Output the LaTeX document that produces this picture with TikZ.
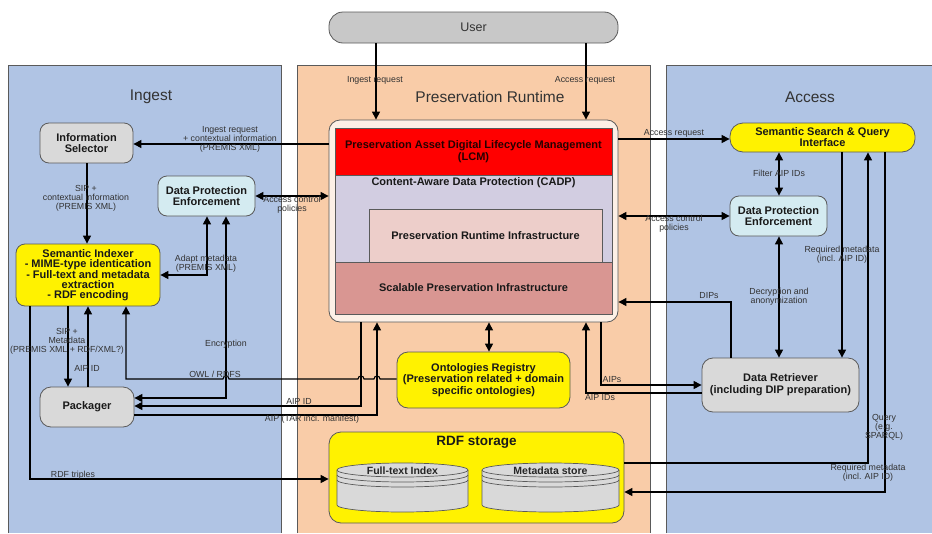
\documentclass[tikz,border=0pt]{standalone}
\usepackage{fontspec}
\setmainfont{Liberation Sans}
\usetikzlibrary{arrows.meta,calc}
\definecolor{panelblue}{RGB}{176,196,228}
\definecolor{panelpeach}{RGB}{249,204,168}
\definecolor{nodegray}{RGB}{217,217,217}
\definecolor{usergray}{RGB}{200,200,200}
\definecolor{dpecol}{RGB}{212,235,241}
\definecolor{lcmoutcol}{RGB}{253,240,230}
\definecolor{cadpcol}{RGB}{210,205,225}
\definecolor{pricol}{RGB}{237,206,202}
\definecolor{spicol}{RGB}{217,150,146}
\definecolor{bordergray}{RGB}{90,90,90}
\definecolor{labelgray}{RGB}{50,50,50}
\newcommand{\diskstack}[2]{%
  \fill[nodegray] (#1-#2,470) -- (#1-#2,505) arc[start angle=180,end angle=360,x radius=#2pt,y radius=7pt] -- (#1+#2,470) arc[start angle=0,end angle=180,x radius=#2pt,y radius=7pt] -- cycle;
  \draw[bordergray,line width=0.7pt] (#1-#2,470) -- (#1-#2,505) arc[start angle=180,end angle=360,x radius=#2pt,y radius=7pt] -- (#1+#2,470);
  \draw[bordergray,line width=0.7pt] (#1,470) ellipse [x radius=#2pt,y radius=7pt];
  \draw[bordergray,line width=0.7pt] (#1-#2,475) arc[start angle=180,end angle=360,x radius=#2pt,y radius=7pt];
  \draw[bordergray,line width=0.7pt] (#1-#2,480) arc[start angle=180,end angle=360,x radius=#2pt,y radius=7pt];
}
\begin{document}
\begin{tikzpicture}[x=1pt,y=-1pt,
  box/.style={draw=bordergray, line width=0.8pt, rounded corners=9pt, align=center,
    font=\fontsize{11}{11}\selectfont\bfseries, text=black!90, inner sep=0pt},
  flat/.style={draw=bordergray, line width=0.7pt, inner sep=0pt, align=center,
    font=\fontsize{11}{12}\selectfont\bfseries, text=black!90},
  lbl/.style={font=\fontsize{8.8}{9}\selectfont, text=labelgray, align=center, inner sep=0pt},
  paneltitle/.style={font=\fontsize{15.5}{17}\selectfont, text=black!80, inner sep=0pt},
  conn/.style={line width=1.1pt, black},
  arr/.style={conn, -{Triangle[length=8pt,width=8pt]}},
  darr/.style={conn, {Triangle[length=8pt,width=8pt]}-{Triangle[length=8pt,width=8pt]}},
  panelline/.style={draw=bordergray, line width=0.8pt},
]
\path[use as bounding box] (0,0) rectangle (932,533);

% panels
\fill[panelblue] (8,65) rectangle (281,533);
\draw[panelline] (8,533) -- (8,65) -- (281,65) -- (281,533);
\fill[panelpeach] (297,65) rectangle (650,533);
\draw[panelline] (297,533) -- (297,65) -- (650,65) -- (650,533);
\fill[panelblue] (666,65) rectangle (932,533);
\draw[panelline] (666,533) -- (666,65) -- (932,65);

\node[paneltitle] (tingest) at (151,97) {Ingest};
\node[paneltitle] (truntime) at (490,97) {Preservation Runtime};
\node[paneltitle] (taccess) at (810,97) {Access};

% x / y helper coordinates
\foreach \xx in {30,68,87,88,126,207,226,361,376,377,489,586,601,731,779,842,868,885}
  \coordinate (x\xx) at (\xx,0);
\foreach \yy in {139,144,196,216,275,302,379,385,393,398,406,415,463,479,492}
  \coordinate (y\yy) at (0,\yy);

% user
\node[box, fill=usergray, rounded corners=14pt, minimum width=289pt, minimum height=31pt,
  font=\fontsize{12.5}{14}\selectfont, text=black!80] (user) at (473.5,27.5) {User};

% LCM stack
\node[box, fill=lcmoutcol, rounded corners=11pt, minimum width=289pt, minimum height=202pt] (lcmo) at (473.5,221) {};
\node[flat, fill=cadpcol, minimum width=277pt, minimum height=87pt] (cadp) at (473.5,218.5) {};
\node[flat, fill=pricol, minimum width=233pt, minimum height=53pt] (pri) at (485.5,235.5) {Preservation Runtime Infrastructure};
\node[flat, fill=red, minimum width=277pt, minimum height=47pt, text=black!85!red] (lcm) at (473.5,151.5) {Preservation Asset Digital Lifecycle Management\\(LCM)};
\node[flat, fill=spicol, minimum width=277pt, minimum height=52pt] (spi) at (473.5,288) {Scalable Preservation Infrastructure};
\node[font=\fontsize{11}{12}\selectfont\bfseries, text=black!90, inner sep=0pt] (cadptxt) at (473.5,183) {Content-Aware Data Protection (CADP)};

% ingest nodes
\node[box, fill=nodegray, minimum width=93pt, minimum height=40pt] (infosel) at (86.5,143) {Information\\Selector};
\node[box, fill=dpecol, minimum width=97pt, minimum height=40pt] (dpei) at (206.5,196) {Data Protection\\Enforcement};
\node[box, fill=yellow, minimum width=144pt, minimum height=62pt, font=\fontsize{11}{10}\selectfont\bfseries] (semidx) at (88,275) {Semantic Indexer\\- MIME-type identication\\- Full-text and metadata\\extraction\\- RDF encoding};
\node[box, fill=nodegray, minimum width=94pt, minimum height=40pt, rounded corners=11pt] (packager) at (87,407) {Packager};

% runtime lower nodes
\node[box, fill=yellow, minimum width=173pt, minimum height=56pt, rounded corners=11pt, font=\fontsize{11}{10}\selectfont\bfseries] (onto) at (483.5,380) {Ontologies Registry\\(Preservation related + domain\\specific ontologies)};
\node[box, fill=yellow, minimum width=295pt, minimum height=91pt, rounded corners=12pt] (rdf) at (476.5,477.5) {};
\node[font=\fontsize{13.5}{15}\selectfont\bfseries, text=black!90, inner sep=0pt] (rdftitle) at (476.5,442) {RDF storage};
\diskstack{402.5}{65.5}
\diskstack{550.5}{68.5}
\node[font=\fontsize{10.5}{12}\selectfont\bfseries, text=black!85, inner sep=0pt] (ftidx) at (402.5,471) {Full-text Index};
\node[font=\fontsize{10.5}{12}\selectfont\bfseries, text=black!85, inner sep=0pt] (mdstore) at (550.5,471) {Metadata store};

% access nodes
\node[box, fill=yellow, minimum width=185pt, minimum height=29pt, rounded corners=13pt] (ssq) at (822.5,137.5) {Semantic Search \& Query\\Interface};
\node[box, fill=dpecol, minimum width=97pt, minimum height=40pt] (dpea) at (778.5,216) {Data Protection\\Enforcement};
\node[box, fill=nodegray, minimum width=157pt, minimum height=54pt, rounded corners=11pt, font=\fontsize{11}{12}\selectfont\bfseries] (dr) at (780.5,385) {Data Retriever\\(including DIP preparation)};

% connectors
\draw[arr] (user.south -| x376) -- (lcmo.north -| x376);
\draw[arr] (user.south -| x586) -- (lcmo.north -| x586);
\draw[arr] (lcmo.west |- y144) -- (infosel.east |- y144);
\draw[arr] (infosel.south -| x87) -- (semidx.north -| x87);
\draw[darr] (dpei.east |- y196) -- (lcmo.west |- y196);
\draw[darr] (dpei.south -| x207) |- (semidx.east |- y275);
\draw[darr] (dpei.south -| x226) |- (packager.east |- y398);
\coordinate (h1) at (377,379);
\coordinate (h2) at (361,379);
\coordinate (h3) at (226,379);
\draw[arr] (onto.west |- y379) -- ([xshift=3pt]h1) arc[start angle=0,end angle=180,radius=3pt]
  -- ([xshift=3pt]h2) arc[start angle=0,end angle=180,radius=3pt]
  -- ([xshift=3pt]h3) arc[start angle=0,end angle=180,radius=3pt]
  -| (semidx.south -| x126);
\draw[arr] (lcmo.south -| x361) |- (packager.east |- y406);
\draw[arr] (packager.east |- y415) -| (lcmo.south -| x377);
\draw[arr] (packager.north -| x88) -- (semidx.south -| x88);
\draw[arr] (semidx.south -| x68) -- (packager.north -| x68);
\draw[arr] (semidx.south -| x30) |- (rdf.west |- y479);

\draw[arr] (lcmo.east |- y139) -- (ssq.west |- y139);
\draw[darr] (lcmo.east |- y216) -- (dpea.west |- y216);
\draw[darr] (ssq.south -| x779) -- (dpea.north -| x779);
\draw[darr] (dpea.south -| x779) -- (dr.north -| x779);
\draw[arr] (ssq.south -| x842) -- (dr.north -| x842);
\draw[arr] (rdf.east |- y463) -| (ssq.south -| x868);
\draw[arr] (ssq.south -| x885) |- (rdf.east |- y492);
\draw[arr] (dr.north -| x731) |- (lcmo.east |- y302);
\draw[arr] (lcmo.south -| x601) |- (dr.west |- y385);
\draw[arr] (dr.west |- y393) -| (lcmo.south -| x586);
\draw[darr] (lcmo.south -| x489) -- (onto.north -| x489);

% labels
\node[lbl] (l1) at (375,80) {Ingest request};
\node[lbl] (l2) at (585,80) {Access request};
\node[lbl] (l3) at (230,139) {Ingest request\\+ contextual information\\(PREMIS XML)};
\node[lbl] (l4) at (86,198) {SIP +\\contextual information\\(PREMIS XML)};
\node[lbl] (l5) at (292,205) {Access control\\policies};
\node[lbl] (l6) at (206,263.5) {Adapt metadata\\(PREMIS XML)};
\node[lbl] (l7) at (226,344) {Encryption};
\node[lbl] (l8) at (215,374) {OWL / RDFS};
\node[lbl] (l9) at (299,401) {AIP ID};
\node[lbl] (l10) at (312,419) {AIP (TAR incl. manifest)};
\node[lbl] (l11) at (87,368) {AIP ID};
\node[lbl] (l12) at (67,341) {SIP +\\Metadata\\(PREMIS XML + RDF/XML?)};
\node[lbl] (l13) at (73,475) {RDF triples};
\node[lbl] (l14) at (674,133) {Access request};
\node[lbl] (l15) at (674,223.5) {Access control\\policies};
\node[lbl] (l16) at (779,173) {Filter AIP IDs};
\node[lbl] (l17) at (779,296.5) {Decryption and\\anonymization};
\node[lbl] (l18) at (842,254.5) {Required metadata\\(incl. AIP ID)};
\node[lbl] (l19) at (884,427.5) {Query\\(e.g.\\SPARQL)};
\node[lbl] (l20) at (868,473) {Required metadata\\(incl. AIP ID)};
\node[lbl] (l21) at (709,296) {DIPs};
\node[lbl] (l22) at (612,380) {AIPs};
\node[lbl] (l23) at (600,397.5) {AIP IDs};
\end{tikzpicture}
\end{document}
